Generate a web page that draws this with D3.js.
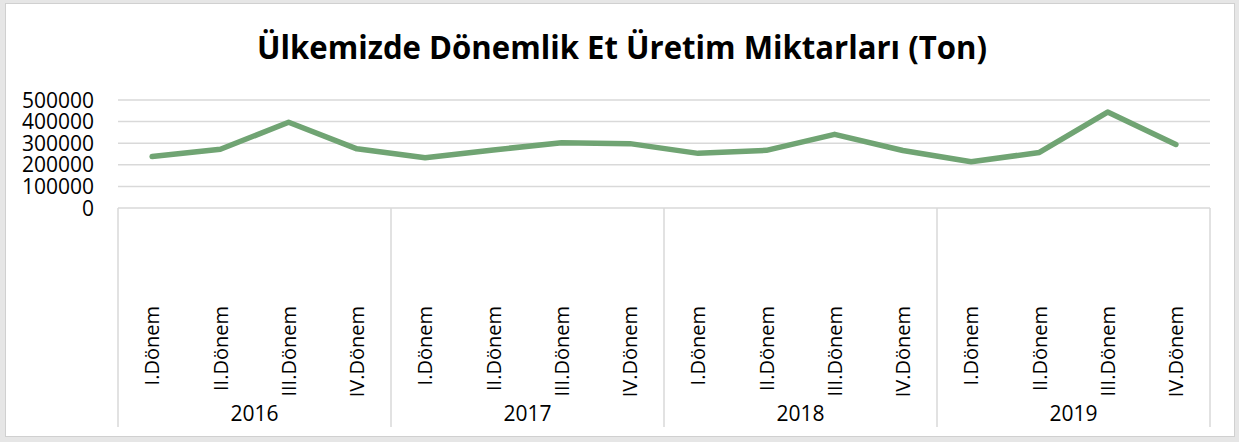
<!DOCTYPE html>
<html>
<head>
<meta charset="utf-8">
<script src="https://cdn.jsdelivr.net/npm/d3@7"></script>
<style>
body { margin: 0; background: #e6e6e6; }
text { font-family: "Open Sans", sans-serif; fill: #000; }
</style>
</head>
<body>
<svg id="chart" width="1239" height="442"></svg>
<script>
var years = ['2016', '2017', '2018', '2019'];
var periods = ['I.Dönem', 'II.Dönem', 'III.Dönem', 'IV.Dönem'];
var values = [
    238000, 272000, 397000, 274000,
    233000, 269000, 302000, 298000,
    253000, 267000, 341000, 266000,
    214000, 257000, 444000, 294000
];
var yTicks = [0, 100000, 200000, 300000, 400000, 500000];
var title = 'Ülkemizde Dönemlik Et Üretim Miktarları (Ton)';

var svg = d3.select('#chart');
var width = 1239;
var height = 442;
var plotLeft = 118, plotRight = 1210, plotTop = 100, plotBottom = 208, axisEnd = 427;
var grey = '#d9d9d9';

// build category keys like "2016-0"
var cats = [];
years.forEach(function(yr) {
    periods.forEach(function(p, i) { cats.push({year: yr, period: p, key: yr + '-' + i}); });
});

var x = d3.scaleBand().domain(cats.map(function(d) { return d.key; })).range([plotLeft, plotRight]);
var y = d3.scaleLinear().domain([0, 500000]).range([plotBottom, plotTop]);

svg.append('rect').attr('x', 0).attr('y', 0).attr('width', width).attr('height', height).attr('fill', '#e6e6e6');
svg.append('rect').attr('x', 5.5).attr('y', 3.5).attr('width', 1229).attr('height', 433)
    .attr('fill', '#fff').attr('stroke', '#d0d0d0');

svg.append('text')
    .attr('x', 622).attr('y', 59)
    .attr('text-anchor', 'middle')
    .attr('font-size', 33).attr('font-weight', 'bold')
    .attr('textLength', 730).attr('lengthAdjust', 'spacingAndGlyphs')
    .text(title);

// grid lines
svg.append('g').selectAll('line').data(yTicks.slice(1)).enter().append('line')
    .attr('x1', plotLeft).attr('x2', plotRight)
    .attr('y1', function(d) { return y(d); }).attr('y2', function(d) { return y(d); })
    .attr('stroke', grey).attr('stroke-width', 1.5);

// y labels
svg.append('g').selectAll('text').data(yTicks).enter().append('text')
    .attr('x', 94).attr('y', function(d) { return y(d); })
    .attr('dy', '0.36em')
    .attr('text-anchor', 'end')
    .attr('font-size', 21)
    .text(function(d) { return d; });

// category axis box
svg.append('line').attr('x1', plotLeft).attr('x2', plotRight).attr('y1', plotBottom).attr('y2', plotBottom)
    .attr('stroke', grey).attr('stroke-width', 1.5);
var seps = years.map(function(yr) { return x(yr + '-0'); }).concat([plotRight]);
svg.append('g').selectAll('line').data(seps).enter().append('line')
    .attr('x1', function(d) { return d; }).attr('x2', function(d) { return d; })
    .attr('y1', plotBottom).attr('y2', axisEnd)
    .attr('stroke', grey).attr('stroke-width', 1.5);

// period labels, rotated
svg.append('g').selectAll('text').data(cats).enter().append('text')
    .attr('transform', function(d) {
        return 'translate(' + (x(d.key) + x.bandwidth() / 2) + ',306) rotate(-90)';
    })
    .attr('dy', '0.36em')
    .attr('text-anchor', 'end')
    .attr('font-size', 20)
    .text(function(d) { return d.period; });

// year labels
svg.append('g').selectAll('text').data(years).enter().append('text')
    .attr('x', function(yr) { return x(yr + '-0') + x.bandwidth() * 2; })
    .attr('y', 421)
    .attr('text-anchor', 'middle')
    .attr('font-size', 21)
    .text(function(d) { return d; });

var line = d3.line()
    .x(function(d, i) { return x(cats[i].key) + x.bandwidth() / 2; })
    .y(function(d) { return y(d); });

svg.append('path')
    .attr('d', line(values))
    .attr('fill', 'none')
    .attr('stroke', '#70a473')
    .attr('stroke-width', 5.5)
    .attr('stroke-linejoin', 'round')
    .attr('stroke-linecap', 'round');
</script>
</body>
</html>
